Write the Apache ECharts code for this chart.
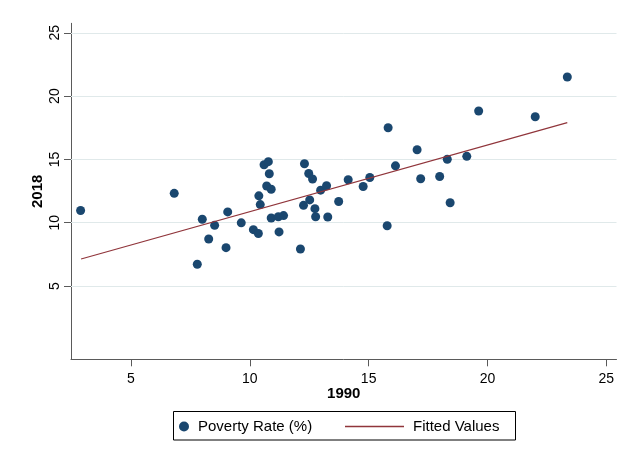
<!DOCTYPE html>
<html>
<head>
<meta charset="utf-8">
<script src="https://cdn.jsdelivr.net/npm/echarts@6/dist/echarts.min.js"></script>
<style>
html,body{margin:0;padding:0;background:#fff;}
#chart{width:621px;height:458px;}
</style>
</head>
<body>
<div id="chart"></div>
<script>
// Poverty rate 1990 (x) vs 2018 (y)
const x1990 = [2.88, 6.82, 7.79, 8.00, 8.27, 8.52, 9.00, 9.07, 9.64, 10.15, 10.36, 10.38, 10.44, 10.60, 10.78, 10.82, 10.71, 10.90, 10.90, 11.20, 11.42, 11.23, 12.13, 12.30, 12.48, 12.64, 12.26, 12.52, 12.74, 12.77, 12.98, 13.23, 13.28, 13.74, 14.14, 14.77, 15.05, 15.82, 15.78, 16.13, 17.04, 17.19, 17.99, 18.31, 18.43, 19.13, 19.63, 22.01, 23.36];
const y2018 = [10.96, 12.32, 6.72, 10.27, 8.71, 9.79, 8.03, 10.85, 9.99, 9.45, 9.15, 12.12, 11.43, 14.58, 14.82, 13.87, 12.90, 12.64, 10.37, 10.47, 10.56, 9.27, 7.92, 14.66, 13.89, 13.45, 11.37, 11.80, 11.11, 10.47, 12.57, 12.92, 10.45, 11.67, 13.39, 12.86, 13.57, 17.50, 9.76, 14.49, 15.76, 13.47, 13.65, 15.01, 11.58, 15.24, 18.82, 18.37, 21.51];
const fitX = [2.90, 23.36];
const fitY = [7.13, 17.90];
const xTicks = [5, 10, 15, 20, 25];
const yTicks = [5, 10, 15, 20, 25];
const seriesNames = ['Poverty Rate (%)', 'Fitted Values'];
const xTitle = '1990';
const yTitle = '2018';

const FONT = '"Liberation Sans", Arial, sans-serif';
const chart = echarts.init(document.getElementById('chart'), null, {renderer: 'canvas'});
const option = {
  backgroundColor: '#ffffff',
  animation: false,
  grid: {left: 71, right: 4.5, top: 23.3, bottom: 98.7, containLabel: false},
  xAxis: {
    type: 'value', min: 2.476, max: 25.43,
    name: xTitle, nameLocation: 'middle', nameGap: 27.5, nameMoveOverlap: false,
    nameTextStyle: {fontFamily: FONT, fontSize: 15, fontWeight: 'bold', color: '#000'},
    axisLine: {show: true, onZero: false, lineStyle: {color: '#5a5a5a', width: 1}},
    axisTick: {show: true, length: 7, customValues: xTicks, lineStyle: {color: '#5a5a5a'}},
    axisLabel: {customValues: xTicks, fontFamily: FONT, fontSize: 14, color: '#000', margin: 13},
    splitLine: {show: false}
  },
  yAxis: {
    type: 'value', min: -0.79, max: 25.75,
    name: yTitle, nameLocation: 'middle', nameGap: 26, nameRotate: 90, nameMoveOverlap: false,
    nameTextStyle: {fontFamily: FONT, fontSize: 15, fontWeight: 'bold', color: '#000'},
    axisLine: {show: true, onZero: false, lineStyle: {color: '#5a5a5a', width: 1}},
    axisTick: {show: true, length: 7, customValues: yTicks, lineStyle: {color: '#5a5a5a'}},
    axisLabel: {customValues: yTicks, rotate: 90, align: 'center', verticalAlign: 'bottom',
                fontFamily: FONT, fontSize: 14, color: '#000', margin: 9},
    splitLine: {show: false}
  },
  legend: [
    {
      data: [{name: seriesNames[0], icon: 'circle'}],
      left: 179, top: 419, itemWidth: 10, itemHeight: 10, padding: 0,
      textStyle: {fontFamily: FONT, fontSize: 15, color: '#000', padding: [0, 0, 0, 4]}
    },
    {
      data: [{name: seriesNames[1], icon: 'rect'}],
      left: 345, top: 419, itemWidth: 59, itemHeight: 1.3, padding: 0,
      textStyle: {fontFamily: FONT, fontSize: 15, color: '#000', padding: [0, 0, 0, 4]}
    }
  ],
  graphic: [
    {type: 'rect', left: 173, top: 411, z: -1, shape: {width: 342, height: 28.5},
     style: {fill: '#fff', stroke: '#000', lineWidth: 1}}
  ],
  series: [
    {
      name: seriesNames[0], type: 'scatter', z: 2,
      symbol: 'circle', symbolSize: 9,
      itemStyle: {color: '#1a476f', opacity: 1},
      data: x1990.map((v, i) => [v, y2018[i]]),
      markLine: {
        z: 1, silent: true, symbol: ['none', 'none'], label: {show: false},
        lineStyle: {color: '#e0e9ea', width: 1, type: 'solid'},
        emphasis: {disabled: true},
        data: yTicks.map(v => ({yAxis: v}))
      }
    },
    {
      name: seriesNames[1], type: 'line', z: 3,
      symbol: 'none', showSymbol: false,
      lineStyle: {color: '#90353b', width: 1.2},
      itemStyle: {color: '#90353b'},
      data: fitX.map((v, i) => [v, fitY[i]])
    }
  ]
};
chart.setOption(option);
</script>
</body>
</html>
